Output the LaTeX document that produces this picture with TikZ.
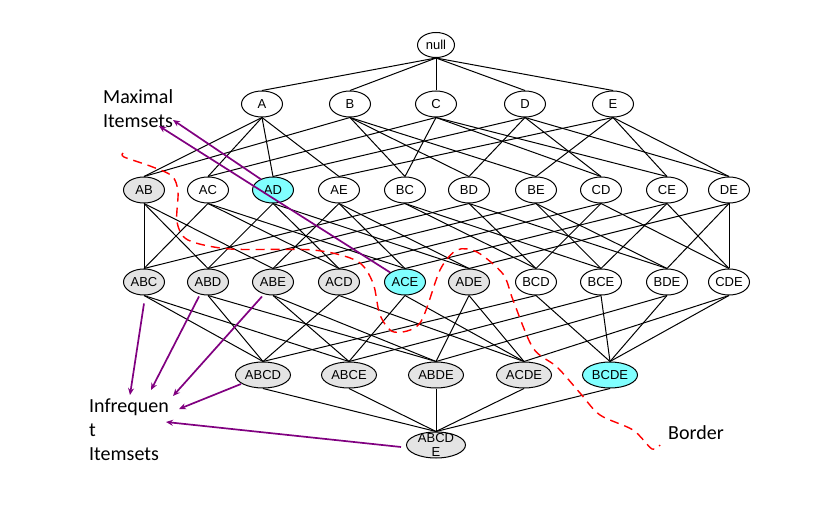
\documentclass[tikz,border=0pt]{standalone}
\usepackage{fontspec}
\setmainfont{Carlito}
\newfontfamily\arialfont{Liberation Sans}
\usetikzlibrary{shapes.geometric,arrows.meta}
\definecolor{infgray}{HTML}{E4E4E4}
\definecolor{maxcyan}{HTML}{80FFFF}
\definecolor{arrowpurple}{HTML}{800080}
\begin{document}
\begin{tikzpicture}[x=1pt,y=-1pt,
  item/.style={ellipse,draw,line width=1pt,inner sep=0pt,minimum width=41pt,minimum height=26pt,font=\arialfont\fontsize{13}{15}\selectfont,fill=white},
  wideitem/.style={item,minimum width=55pt},
  inf/.style={fill=infgray},
  maxi/.style={fill=maxcyan},
  edge/.style={line width=1pt},
  pointer/.style={arrowpurple,line width=1.7pt,-{Stealth[length=7pt,width=6pt]}},
  borderline/.style={red,line width=1.4pt,dash pattern=on 9pt off 6pt},
  annot/.style={font=\fontsize{20}{24}\selectfont,align=left,anchor=base west,inner sep=0pt}
]
\useasboundingbox (0,0) rectangle (835,510);
% level 0
\node[item,minimum width=37pt,minimum height=25pt] (n0) at (436,45) {null};
% level 1
\node[item] (A) at (262,104) {A};
\node[item] (B) at (350,104) {B};
\node[item] (C) at (436,104) {C};
\node[item] (D) at (525,104) {D};
\node[item] (E) at (613,104) {E};
% level 2
\node[item,inf]  (AB) at (144,190) {AB};
\node[item]      (AC) at (208,190) {AC};
\node[item,maxi] (AD) at (273,190) {AD};
\node[item]      (AE) at (339,190) {AE};
\node[item]      (BC) at (405,190) {BC};
\node[item]      (BD) at (469,190) {BD};
\node[item]      (BE) at (536,190) {BE};
\node[item]      (CD) at (601,190) {CD};
\node[item]      (CE) at (667,190) {CE};
\node[item]      (DE) at (729,190) {DE};
% level 3
\node[item,inf]  (ABC) at (144,282) {ABC};
\node[item,inf]  (ABD) at (208,282) {ABD};
\node[item,inf]  (ABE) at (273,282) {ABE};
\node[item,inf]  (ACD) at (339,282) {ACD};
\node[item,maxi] (ACE) at (405,282) {ACE};
\node[item,inf]  (ADE) at (469,282) {ADE};
\node[item]      (BCD) at (536,282) {BCD};
\node[item]      (BCE) at (601,282) {BCE};
\node[item]      (BDE) at (667,282) {BDE};
\node[item]      (CDE) at (729,282) {CDE};
% level 4
\node[wideitem,inf]  (ABCD) at (263,375) {ABCD};
\node[wideitem,inf]  (ABCE) at (349,375) {ABCE};
\node[wideitem,inf]  (ABDE) at (436,375) {ABDE};
\node[wideitem,inf]  (ACDE) at (524,375) {ACDE};
\node[wideitem,maxi] (BCDE) at (610,375) {BCDE};
% level 5
\node[item,inf,minimum width=59pt,minimum height=26pt] (ABCDE) at (436,445) {};
\node[font=\arialfont\fontsize{13}{14}\selectfont,align=center,anchor=base,inner sep=0pt] (ABCDEtext) at (436,456) {ABCD\\E};
% edges
\foreach \p/\c in {n0/A,n0/B,n0/C,n0/D,n0/E,
  A/AB,A/AC,A/AD,A/AE,B/AB,B/BC,B/BD,B/BE,C/AC,C/BC,C/CD,C/CE,D/AD,D/BD,D/CD,D/DE,E/AE,E/BE,E/CE,E/DE,
  AB/ABC,AB/ABD,AB/ABE,AC/ABC,AC/ACD,AC/ACE,AD/ABD,AD/ACD,AD/ADE,AE/ABE,AE/ACE,AE/ADE,
  BC/ABC,BC/BCD,BC/BCE,BD/ABD,BD/BCD,BD/BDE,BE/ABE,BE/BCE,BE/BDE,CD/ACD,CD/BCD,CD/CDE,
  CE/ACE,CE/BCE,CE/CDE,DE/ADE,DE/BDE,DE/CDE,
  ABC/ABCD,ABC/ABCE,ABD/ABCD,ABD/ABDE,ABE/ABCE,ABE/ABDE,ACD/ABCD,ACD/ACDE,ACE/ABCE,ACE/ACDE,
  ADE/ABDE,ADE/ACDE,BCD/ABCD,BCD/BCDE,BCE/ABCE,BCE/BCDE,BDE/ABDE,BDE/BCDE,CDE/ACDE,CDE/BCDE,
  ABCD/ABCDE,ABCE/ABCDE,ABDE/ABCDE,ACDE/ABCDE,BCDE/ABCDE}
  \draw[edge] (\p.south) -- (\c.north);
% labels
\node[annot] (maxlabel) at (103,128) {Maximal\\Itemsets};
\node[annot] (inflabel) at (89,460) {Infrequen\\t\\Itemsets};
\node[annot] (borderlabel) at (668,439) {Border};
% pointer targets
\coordinate (m1) at (173,120);
\coordinate (m2) at (159,126);
\coordinate (i1) at (130,395);
\coordinate (i2) at (151,390);
\coordinate (i3) at (173,396);
\coordinate (i4) at (179,409);
\coordinate (i5) at (166,422);
\draw[pointer] (AD.north west) ++(3,-1) -- (m1);
\draw[pointer] (ACE.north west) -- (m2);
\draw[pointer] (ABC.south) ++(0,8) -- (i1);
\draw[pointer] (ABD.south) ++(-9,1) -- (i2);
\draw[pointer] (ABE.south) ++(-11,1) -- (i3);
\draw[pointer] (ABCD.west) ++(6,9) -- (i4);
\draw[pointer] (ABCDE.west) ++(-5,2) -- (i5);
% border
\draw[borderline] plot[smooth,tension=0.5] coordinates {(123,153) (124,157) (150,166) (172,176) (178,192) (177,222) (188,240) (230,249) (313,250) (357,261) (373,283) (380,315) (394,332) (420,323) (440,270) (457,250) (477,252) (503,274) (513,300) (533,348) (557,367) (580,393) (600,415) (633,430) (652,449) (660,445)};
\end{tikzpicture}
\end{document}
